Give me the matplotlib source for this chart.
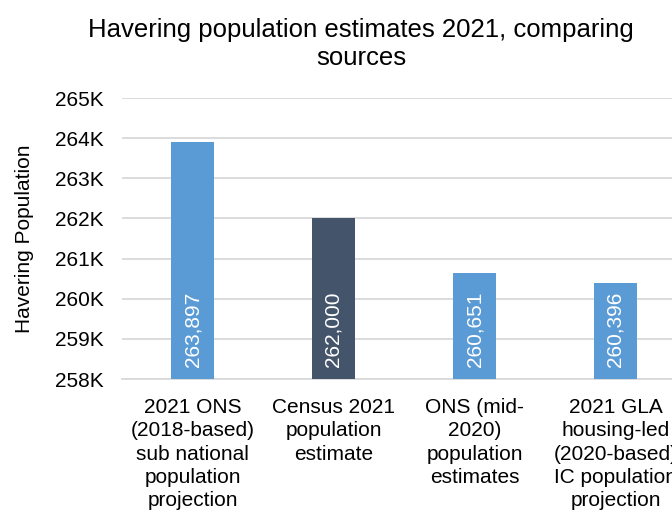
"""Havering population estimates 2021 - bar chart comparing sources."""

import matplotlib.pyplot as plt
from matplotlib.ticker import FuncFormatter

plt.rcParams["font.family"] = ["Liberation Sans", "DejaVu Sans"]

categories = [
    "2021 ONS\n(2018-based)\nsub national\npopulation\nprojection",
    "Census 2021\npopulation\nestimate",
    "ONS (mid-\n2020)\npopulation\nestimates",
    "2021 GLA\nhousing-led\n(2020-based)\nIC population\nprojection",
]
values = [263897, 262000, 260651, 260396]
bar_colors = ["#5B9BD5", "#44546A", "#5B9BD5", "#5B9BD5"]
y_ticks = [258000, 259000, 260000, 261000, 262000, 263000, 264000, 265000]

figure = plt.figure(figsize=(6.72, 5.11), dpi=100)
# plot area runs past the right edge, as in the cropped original
axis = figure.add_axes([122 / 672, 1 - 379 / 511, 564 / 672, 281 / 511])

positions = range(len(categories))
axis.bar(positions, [v - y_ticks[0] for v in values], bottom=y_ticks[0],
         width=0.31, color=bar_colors, zorder=3)

for x, value in zip(positions, values):
    axis.annotate(f"{value:,}", xy=(x, y_ticks[0]), xytext=(0, 9),
                  textcoords="offset points", rotation=90, ha="center",
                  va="bottom", color="white", fontsize=15, zorder=4)

axis.set_xlim(-0.5, len(categories) - 0.5)
axis.set_ylim(y_ticks[0], y_ticks[-1])
axis.set_yticks(y_ticks)
axis.yaxis.set_major_formatter(FuncFormatter(lambda v, _: f"{v / 1000:.0f}K"))
axis.set_xticks(list(positions))
axis.set_xticklabels(categories, fontsize=15, linespacing=1.27)
axis.tick_params(axis="y", labelsize=15, length=0, pad=13)
axis.tick_params(axis="x", length=0, pad=14)
axis.grid(axis="y", color="#D9D9D9", linewidth=1.3, zorder=0)
for side in ["left", "right", "top"]:
    axis.spines[side].set_visible(False)
axis.spines["bottom"].set_color("#D9D9D9")
axis.spines["bottom"].set_linewidth(1.3)
axis.set_ylabel("Havering Population", fontsize=15, labelpad=15)

figure.text(361 / 672, 1 - 44 / 511,
            "Havering population estimates 2021, comparing\nsources",
            ha="center", va="center", fontsize=18.5, linespacing=1.18)

figure.savefig("out.png", dpi=100)
